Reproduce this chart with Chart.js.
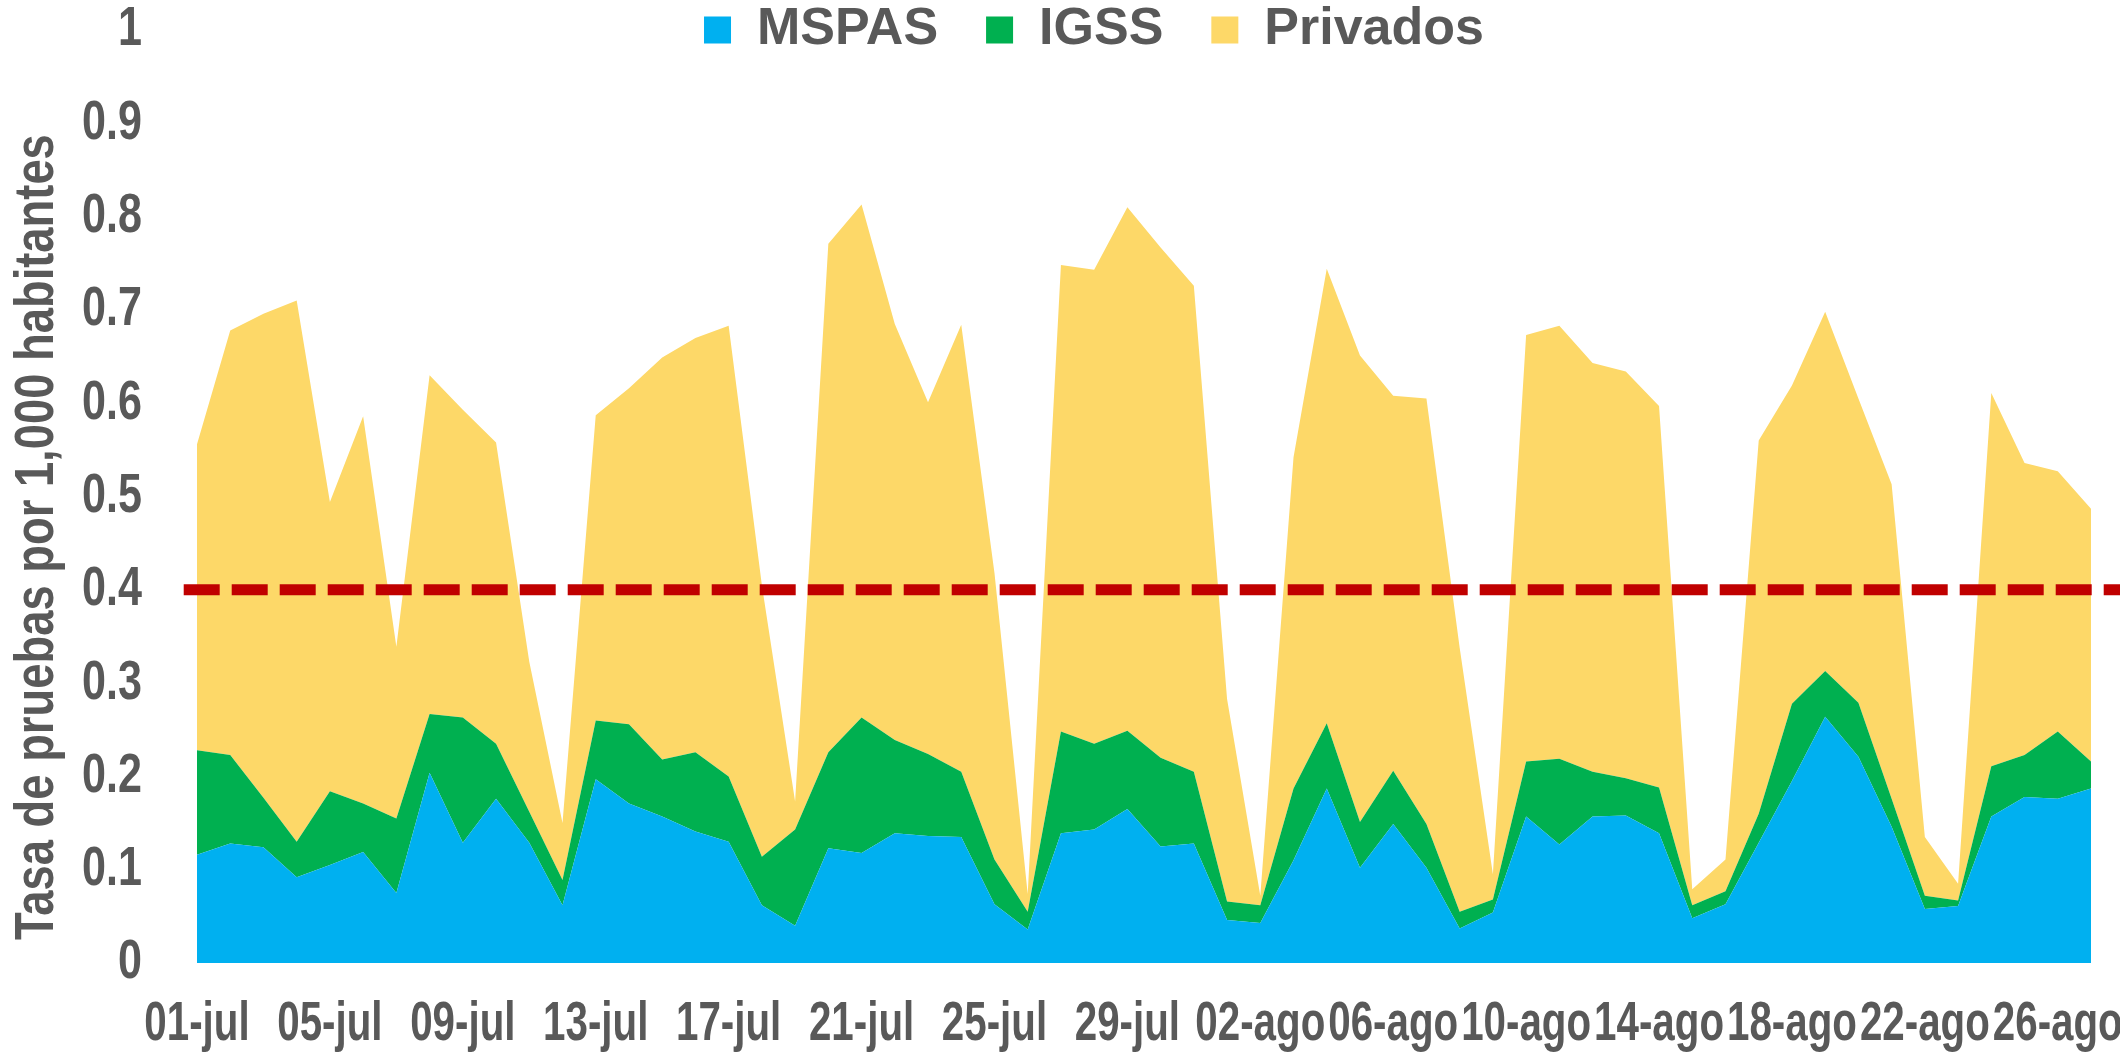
<!DOCTYPE html>
<html lang="es">
<head>
<meta charset="UTF-8">
<title>Tasa de pruebas por 1,000 habitantes</title>
<script src="https://cdn.jsdelivr.net/npm/chart.js"></script>
<style>
  html, body { margin: 0; padding: 0; background: #fff; }
  #wrap { width: 2120px; height: 1057px; position: relative; }
</style>
</head>
<body>
<div id="wrap"><canvas id="grafica"></canvas></div>
<script>
// fechas (una por dia)
const dias = [
  '01-jul','02-jul','03-jul','04-jul','05-jul','06-jul','07-jul','08-jul','09-jul','10-jul',
  '11-jul','12-jul','13-jul','14-jul','15-jul','16-jul','17-jul','18-jul','19-jul','20-jul',
  '21-jul','22-jul','23-jul','24-jul','25-jul','26-jul','27-jul','28-jul','29-jul','30-jul',
  '31-jul','01-ago','02-ago','03-ago','04-ago','05-ago','06-ago','07-ago','08-ago','09-ago',
  '10-ago','11-ago','12-ago','13-ago','14-ago','15-ago','16-ago','17-ago','18-ago','19-ago',
  '20-ago','21-ago','22-ago','23-ago','24-ago','25-ago','26-ago','27-ago'
];

const mspas = [
  0.116, 0.128, 0.124, 0.092, 0.105, 0.119, 0.075, 0.204, 0.129, 0.176,
  0.129, 0.062, 0.197, 0.171, 0.157, 0.141, 0.130, 0.062, 0.040, 0.123,
  0.118, 0.139, 0.136, 0.135, 0.063, 0.036, 0.139, 0.143, 0.165, 0.125,
  0.128, 0.046, 0.043, 0.110, 0.187, 0.102, 0.149, 0.102, 0.037, 0.054,
  0.157, 0.127, 0.157, 0.158, 0.139, 0.048, 0.063, 0.129, 0.195, 0.264,
  0.221, 0.146, 0.058, 0.061, 0.157, 0.178, 0.176, 0.187
];

const igss = [
  0.112, 0.095, 0.053, 0.038, 0.079, 0.052, 0.080, 0.063, 0.134, 0.059,
  0.033, 0.027, 0.063, 0.085, 0.061, 0.085, 0.070, 0.052, 0.103, 0.103,
  0.145, 0.100, 0.088, 0.070, 0.048, 0.019, 0.109, 0.092, 0.084, 0.095,
  0.077, 0.020, 0.019, 0.077, 0.070, 0.049, 0.057, 0.047, 0.018, 0.014,
  0.059, 0.092, 0.048, 0.040, 0.049, 0.014, 0.014, 0.031, 0.083, 0.049,
  0.058, 0.030, 0.014, 0.006, 0.054, 0.045, 0.072, 0.029
];

const privados = [
  0.328, 0.455, 0.519, 0.580, 0.310, 0.415, 0.184, 0.363, 0.330, 0.323,
  0.161, 0.061, 0.327, 0.360, 0.431, 0.444, 0.483, 0.291, 0.030, 0.545,
  0.550, 0.446, 0.377, 0.479, 0.307, 0.019, 0.500, 0.508, 0.561, 0.547,
  0.521, 0.217, 0.010, 0.355, 0.487, 0.500, 0.402, 0.456, 0.283, 0.027,
  0.457, 0.464, 0.438, 0.436, 0.409, 0.017, 0.034, 0.400, 0.341, 0.385,
  0.326, 0.337, 0.063, 0.018, 0.400, 0.313, 0.279, 0.271
];

// meta de referencia
const meta = 0.4;
const metaDesde = -0.4;   // se extiende un poco antes del primer dia
const metaHasta = 57.9;   // y hasta el borde derecho

const gris = '#595959';
const fuente = "'Liberation Sans', Arial, sans-serif";

// texto angosto: comprime horizontalmente lo que dibuja fn (y lo corre dx a lo largo del texto)
function angosto(fn, k, dx = 0) {
  return function (...args) {
    const c = this.ctx;
    const orig = c.fillText;
    c.fillText = function (t, x, y) {
      this.save();
      this.translate(x, y);
      this.translate(dx, 0);
      this.scale(k, 1);
      orig.call(this, t, 0, 0);
      this.restore();
    };
    try { return fn.apply(this, args); } finally { delete c.fillText; }
  };
}

// la leyenda no ocupa espacio y se dibuja encima del area (como en Excel)
const leyendaFlotante = {
  id: 'leyendaFlotante',
  beforeLayout(chart) {
    const lg = chart.legend;
    if (lg && !lg._flotante) {
      const fit = lg.fit.bind(lg);
      lg.fit = function () { fit(); this.height = 0; };
      lg._flotante = true;
    }
  },
  afterLayout(chart) {
    const lg = chart.legend;
    const pad = lg.options.labels.padding;
    const alto = lg.options.labels.font.size;
    lg.top = 30 - pad - alto / 2;
    lg.bottom = lg.top + 2 * pad + alto + 40;
    const dx = 1094 - (lg.left + lg.right) / 2;
    lg.left += dx; lg.right += dx;
  },
  beforeDraw(chart) {
    const sx = chart.scales.x, sy = chart.scales.y;
    if (!sx._angosto) {
      sx.drawLabels = angosto(sx.drawLabels, 0.72);
      sy.drawLabels = angosto(sy.drawLabels, 0.77);
      sy.drawTitle = angosto(sy.drawTitle, 0.81, 23);
      sx._angosto = true;
    }
  }
};

const ctx = document.getElementById('grafica').getContext('2d');
new Chart(ctx, {
  type: 'line',
  data: {
    labels: dias,
    datasets: [
      {
        label: 'MSPAS',
        data: mspas,
        backgroundColor: '#00B0F0',
        borderColor: 'rgba(0,0,0,0)',
        borderWidth: 0,
        pointRadius: 0,
        fill: 'origin',
        stack: 'pruebas'
      },
      {
        label: 'IGSS',
        data: igss,
        backgroundColor: '#00B050',
        borderColor: 'rgba(0,0,0,0)',
        borderWidth: 0,
        pointRadius: 0,
        fill: '-1',
        stack: 'pruebas'
      },
      {
        label: 'Privados',
        data: privados,
        backgroundColor: '#FDD868',
        borderColor: 'rgba(0,0,0,0)',
        borderWidth: 0,
        pointRadius: 0,
        fill: '-1',
        stack: 'pruebas'
      },
      {
        label: 'Meta',
        data: [{x: metaDesde, y: meta}, {x: metaHasta, y: meta}],
        xAxisID: 'xMeta',
        stack: 'meta',
        borderColor: '#C00000',
        borderWidth: 11,
        borderDash: [36, 12],
        borderCapStyle: 'butt',
        pointRadius: 0,
        fill: false,
        clip: false,
        order: -1
      }
    ]
  },
  options: {
    responsive: true,
    maintainAspectRatio: false,
    animation: false,
    layout: { padding: { left: 0, right: 29, top: 30, bottom: 0 } },
    plugins: {
      legend: {
        position: 'top',
        align: 'center',
        labels: {
          color: gris,
          font: { family: fuente, size: 52, weight: 'bold' },
          boxWidth: 27,
          boxHeight: 27,
          padding: 48,
          filter: item => item.text !== 'Meta'
        }
      },
      tooltip: { enabled: false }
    },
    scales: {
      x: {
        type: 'category',
        offset: false,
        grid: { display: false, drawTicks: false },
        border: { display: false },
        ticks: {
          autoSkip: false,
          maxRotation: 0,
          minRotation: 0,
          padding: 28,
          color: gris,
          font: { family: fuente, size: 56, weight: 'bold' },
          callback: function (val, i) { return i % 4 === 0 ? this.getLabelForValue(val) : ''; }
        },
        afterFit: s => { s.height = 94; }
      },
      xMeta: {
        type: 'linear',
        display: false,
        min: 0,
        max: 57
      },
      y: {
        stacked: true,
        min: 0,
        max: 1,
        grid: { display: false, drawTicks: false },
        border: { display: false },
        ticks: {
          stepSize: 0.1,
          padding: 55,
          color: gris,
          font: { family: fuente, size: 56, weight: 'bold' },
          callback: v => String(+v.toFixed(1))
        },
        title: {
          display: true,
          text: 'Tasa de pruebas por 1,000 habitantes',
          align: 'start',
          color: gris,
          padding: { top: 4, bottom: 0 },
          font: { family: fuente, size: 56, weight: 'bold' }
        },
        afterFit: s => {
          s.width = 197;
          s.paddingTop = 0;
          s.paddingBottom = 0;
        }
      }
    }
  },
  plugins: [leyendaFlotante]
});
</script>
</body>
</html>
